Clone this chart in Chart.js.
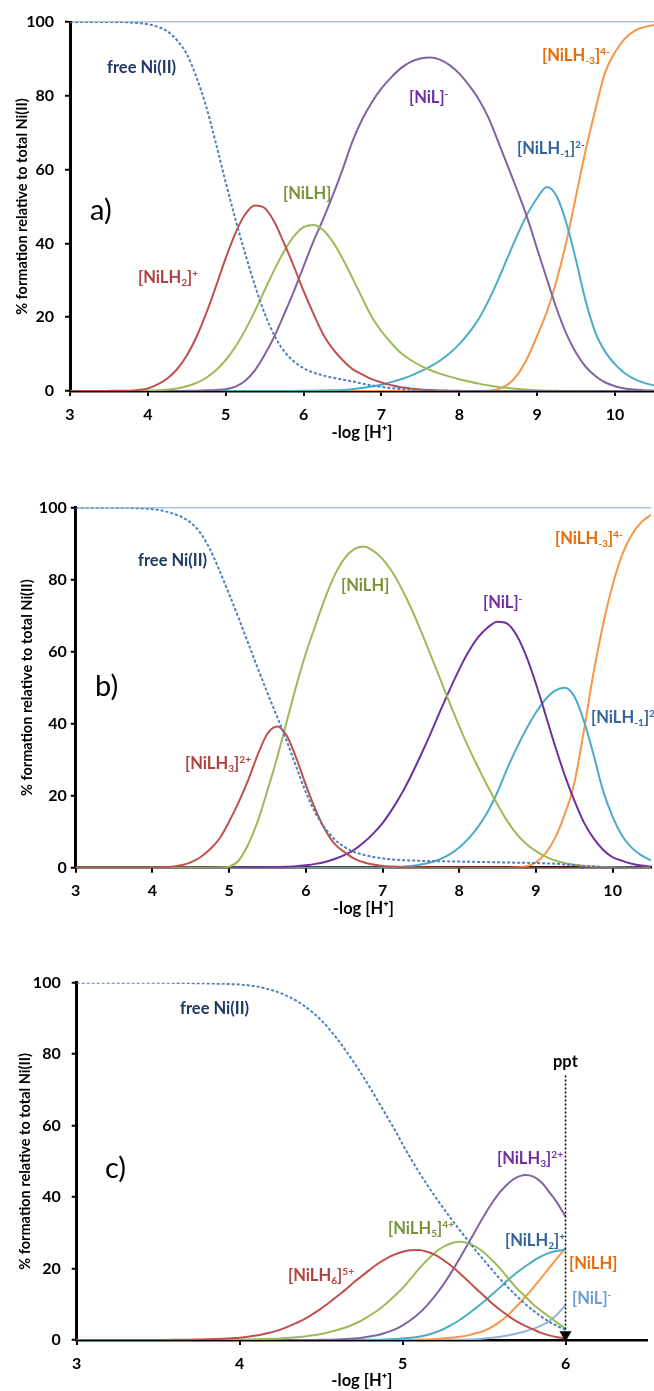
<!DOCTYPE html>
<html>
<head>
<meta charset="utf-8">
<script src="https://cdn.jsdelivr.net/npm/chart.js@4.4.1/dist/chart.umd.min.js"></script>
<style>
  body { margin: 0; background: #fff; width: 654px; height: 1391px; position: relative; overflow: hidden;
         font-family: Lato, "Open Sans", sans-serif; }
  canvas { position: absolute; left: 0; }
  .lbl { position: absolute; font-weight: bold; font-size: 16.5px; line-height: 1; white-space: nowrap; }
  .lbl sup { font-size: 0.62em; position: relative; top: -0.55em; vertical-align: baseline; }
  .lbl sub { font-size: 0.62em; position: relative; top: 0.3em; vertical-align: baseline; }
  .panel { position: absolute; font-size: 29px; line-height: 1; color: #000; }
</style>
</head>
<body>
<canvas id="chartA" width="654" height="445" style="top:0px"></canvas>
<canvas id="chartB" width="654" height="445" style="top:480px"></canvas>
<canvas id="chartC" width="654" height="431" style="top:960px"></canvas>

<script>
// -log[H+] grid for panels a) and b)
const pHAB = [3, 3.125, 3.25, 3.375, 3.5, 3.625, 3.75, 3.875,
              4, 4.125, 4.25, 4.375, 4.5, 4.625, 4.75, 4.875,
              5, 5.125, 5.25, 5.375, 5.5, 5.625, 5.75, 5.875,
              6, 6.125, 6.25, 6.375, 6.5, 6.625, 6.75, 6.875,
              7, 7.125, 7.25, 7.375, 7.5, 7.625, 7.75, 7.875,
              8, 8.125, 8.25, 8.375, 8.5, 8.625, 8.75, 8.875,
              9, 9.125, 9.25, 9.375, 9.5, 9.625, 9.75, 9.875,
              10, 10.125, 10.25, 10.375, 10.5];
// -log[H+] grid for panel c)
const pHC = [3, 3.05, 3.1, 3.15, 3.2, 3.25, 3.3, 3.35, 3.4, 3.45,
             3.5, 3.55, 3.6, 3.65, 3.7, 3.75, 3.8, 3.85, 3.9, 3.95,
             4, 4.05, 4.1, 4.15, 4.2, 4.25, 4.3, 4.35, 4.4, 4.45,
             4.5, 4.55, 4.6, 4.65, 4.7, 4.75, 4.8, 4.85, 4.9, 4.95,
             5, 5.05, 5.1, 5.15, 5.2, 5.25, 5.3, 5.35, 5.4, 5.45,
             5.5, 5.55, 5.6, 5.65, 5.7, 5.75, 5.8, 5.85, 5.9, 5.95,
             6];

// panel a) species, % of total Ni(II)
const freeA = [100,100,100,100,100,100,99.9,99.7,
  99.4,98.7,97.5,95,91.3,85,77,67,
  56.5,46.5,37.2,28.6,21,15,10.8,8,
  6.2,5,4.2,3.6,3.1,2.6,2,1.5,
  1.1,0.8,0.5,0.3,0.2,0.1,0,0,
  0,0,0,0,0,0,0,0,
  0,0,0,0,0,0,0,0,
  0,0,0,0,0];
const nilh2A = [0,0,0,0,0.03,0.06,0.1,0.3,
  0.7,1.8,3.4,5.9,9.6,14.7,21.1,28.4,
  36,42.8,47.9,50.3,49.6,45.8,40,33.8,
  27.1,21,15.4,11.4,8.4,6,4.5,3.2,
  2.3,1.6,1,0.7,0.4,0.25,0.15,0.1,
  0.05,0,0,0,0,0,0,0,
  0,0,0,0,0,0,0,0,
  0,0,0,0,0];
const nilhA = [0,0,0,0,0,0,0,0.05,
  0.1,0.2,0.4,0.7,1.3,2.2,3.6,5.6,
  8.4,12,16.5,21.7,27.3,32.9,37.9,41.9,
  44.4,45,43.6,40.4,35.9,30.7,25.3,20.1,
  16.2,13,10.3,8.4,6.9,5.7,4.7,3.9,
  3.2,2.6,2,1.5,1.1,0.8,0.55,0.35,
  0.2,0.1,0.05,0,0,0,0,0,
  0,0,0,0,0];
const nilA = [0,0,0,0,0,0,0,0,
  0,0,0,0,0.05,0.1,0.2,0.3,
  0.5,1.2,2.8,5.6,9.8,14.8,20.8,27,
  33.8,40.5,46.5,53,60,67.5,73.5,78.2,
  82,85,87.5,89.2,90.1,90.4,89.8,88.3,
  86,82.8,79,74,67.5,60.8,54,46.8,
  38.5,30.3,22.3,15.5,10.3,6.5,4,2.3,
  1.3,0.7,0.4,0.2,0.1];
const nilhm1A = [0,0,0,0,0,0,0,0,
  0,0,0,0,0,0,0,0,
  0,0,0,0,0,0,0,0.02,
  0.05,0.1,0.15,0.2,0.3,0.5,0.8,1.2,
  1.7,2.4,3.2,4.1,5.3,6.6,8.2,10.2,
  12.7,15.8,19.6,24.5,30.2,36.4,42.5,48,
  52.3,55.3,52.8,45.5,35.3,24.2,15.7,10.6,
  7.2,4.8,3.2,2.2,1.5];
const nilhm3A = [0,0,0,0,0,0,0,0,
  0,0,0,0,0,0,0,0,
  0,0,0,0,0,0,0,0,
  0,0,0,0,0,0,0,0,
  0,0,0,0,0,0,0,0,
  0,0,0,0.1,0.5,1.8,4.5,9,
  15,21.5,30,40.5,53,65.5,76.5,86.5,
  91.8,95.5,97.6,98.6,99.2];

// panel b) species
const freeB = [100,100,100,100,100,100,99.9,99.8,
  99.6,99.2,98.5,97.5,95.8,93,88.5,82.5,
  76,69.3,62.3,55.3,48.5,42,35.3,28,
  21,15.2,11,7.9,5.8,4.4,3.6,3,
  2.6,2.3,2.1,2,1.9,1.85,1.8,1.75,
  1.7,1.65,1.6,1.55,1.5,1.45,1.4,1.35,
  1.3,1.2,1.1,0.9,0.7,0.5,0.35,0.2,
  0.15,0.1,0.05,0,0];
const nilh3B = [0,0,0,0,0,0,0,0,
  0,0.1,0.3,0.7,1.5,2.9,5.1,8.1,
  12.8,18.2,24.4,31.5,37.2,39.2,36.7,30.5,
  23,16.2,10.6,6.6,4.4,2.6,1.5,0.9,
  0.5,0.3,0.15,0.08,0.04,0,0,0,
  0,0,0,0,0,0,0,0,
  0,0,0,0,0,0,0,0,
  0,0,0,0,0];
const nilhB = [0,0,0,0,0,0,0,0,
  0,0,0,0,0,0,0,0.05,
  0.3,2,6.5,13,21.5,30.5,40.5,50.5,
  59.5,67.3,74.8,81.2,85.8,88.4,89.2,88.1,
  85.8,82.2,77.5,72,65.8,59.2,52.5,45.8,
  39.3,33.2,27.7,22.4,17.5,13,9.3,6.6,
  4.6,3.1,2,1.3,0.8,0.5,0.3,0.2,
  0.1,0.05,0,0,0];
const nilB = [0,0,0,0,0,0,0,0,
  0,0,0,0,0,0,0,0,
  0,0,0,0.05,0.1,0.17,0.26,0.4,
  0.68,1.06,1.6,2.4,3.5,4.9,6.9,9.4,
  12.4,16.2,20.6,25.7,31.3,37.2,43.4,49.4,
  55.1,60.1,64.1,66.8,68.3,67.8,64.5,58.7,
  51.1,42.5,33.8,25.7,18.7,12.6,8.2,5,
  2.9,1.9,1.1,0.6,0.3];
const nilhm1B = [0,0,0,0,0,0,0,0,
  0,0,0,0,0,0,0,0,
  0,0,0,0,0,0,0,0,
  0,0,0,0,0,0,0,0,
  0.02,0.1,0.27,0.5,0.86,1.45,2.4,3.7,
  5.6,8.2,11.5,15.7,21.1,27.5,33.3,38.5,
  43.1,46.8,49.2,50,47.6,40.8,31.5,21.4,
  14.1,8.8,5.5,3.4,2];
const nilhm3B = [0,0,0,0,0,0,0,0,
  0,0,0,0,0,0,0,0,
  0,0,0,0,0,0,0,0,
  0,0,0,0,0,0,0,0,
  0,0,0,0,0,0,0,0,
  0,0,0,0,0,0,0.1,0.4,
  1.5,4,8.3,14.8,23.5,38,54,67.5,
  78.5,87,92.5,96,98];

// panel c) species
const freeC = [100,100,100,100,100,100,100,100,100,100,
  100,99.98,99.95,99.92,99.9,99.85,99.8,99.75,99.7,99.6,
  99.5,99.3,99,98.5,97.9,97.1,96.1,94.9,93.4,91.6,
  89.5,87,84.2,81.1,77.8,74.3,70.6,66.8,62.9,59,
  54.8,50.8,47,43.5,40.1,36.9,33.8,30.8,27.9,25,
  22.3,19.6,17,14.6,12.3,10.2,8.3,6.6,5.1,3.9,
  2.8];
const nilh6C = [0,0,0,0,0,0,0,0,0.01,0.01,
  0.02,0.03,0.05,0.07,0.1,0.15,0.2,0.28,0.38,0.5,
  0.6,0.9,1.25,1.7,2.2,2.9,3.8,4.8,5.9,7.3,
  8.8,10.5,12.3,14.1,16.1,17.9,19.7,21.4,22.8,23.9,
  24.7,25.1,25.2,24.7,23.8,22.4,20.7,18.7,16.6,14.4,
  12.3,10.2,8.4,6.7,5.2,4,3,2,1.3,0.8,
  0.5];
const nilh5C = [0,0,0,0,0,0,0,0,0,0,
  0,0,0,0,0,0.01,0.02,0.03,0.05,0.07,
  0.1,0.13,0.18,0.25,0.35,0.45,0.6,0.8,1,1.3,
  1.7,2.2,2.8,3.5,4.4,5.5,6.9,8.4,10.2,12.3,
  14.5,17.2,19.9,22.3,24.5,26.1,27.1,27.5,27.1,26.1,
  24.5,22.3,19.9,17.2,14.5,12.3,10,8.2,6.5,4.8,
  3.2];
const nilh3C = [0,0,0,0,0,0,0,0,0,0,
  0,0,0,0,0,0,0,0,0,0,
  0,0,0,0,0,0,0,0,0.02,0.03,
  0.06,0.1,0.17,0.27,0.42,0.65,1,1.4,2.1,2.9,
  4.1,5.6,7.4,9.7,12.4,15.5,19,22.8,26.8,30.8,
  34.8,38.4,41.5,43.9,45.5,46.2,45.8,44.2,41.4,38.3,
  34.5];
const nilh2C = [0,0,0,0,0,0,0,0,0,0,
  0,0,0,0,0,0,0,0,0,0,
  0,0,0,0,0,0,0,0,0,0,
  0,0,0.01,0.02,0.03,0.04,0.05,0.08,0.15,0.25,
  0.4,0.6,0.9,1.4,2.1,3,4.2,5.6,7.2,9,
  10.8,12.8,14.8,16.9,18.8,20.5,22.1,23.4,24.4,25,
  25.3];
const nilhC = [0,0,0,0,0,0,0,0,0,0,
  0,0,0,0,0,0,0,0,0,0,
  0,0,0,0,0,0,0,0,0,0,
  0,0,0,0,0,0,0,0,0,0,
  0.03,0.05,0.1,0.15,0.25,0.4,0.6,0.9,1.3,1.9,
  2.6,3.7,5.2,7.1,9.4,11.9,14.5,17.3,20.2,23,
  25.7];
const nilC = [0,0,0,0,0,0,0,0,0,0,
  0,0,0,0,0,0,0,0,0,0,
  0,0,0,0,0,0,0,0,0,0,
  0,0,0,0,0,0,0,0,0,0,
  0,0,0,0,0,0,0.05,0.08,0.12,0.2,
  0.4,0.6,0.9,1.3,1.8,2.4,3.1,4,5.3,7.2,
  9.8];
// precipitation marker
const pptX = [6, 6];
const pptY = [74, 1.5];

const yTicks = [0, 20, 40, 60, 80, 100];

const RED = "#c0504d", GREEN = "#9bbb59", PURPLE = "#8064a2", CYAN = "#4bacc6",
      ORANGE = "#f79646", DASH = "#4f81bd", LTBLUE = "#95b3d7";

Chart.defaults.font.family = 'Lato, "Open Sans", sans-serif';
Chart.defaults.color = "#000";

function line(xs, ys, color, extra) {
  return Object.assign({
    data: xs.map((x, i) => ({ x, y: ys[i] })),
    borderColor: color,
    borderWidth: 2,
    pointRadius: 0,
    cubicInterpolationMode: "monotone",
    fill: false
  }, extra || {});
}

function makeChart(id, datasets, o) {
  return new Chart(document.getElementById(id), {
    type: "line",
    data: { datasets },
    options: {
      responsive: false,
      animation: false,
      layout: { padding: { top: o.padTop, right: o.padRight, left: 0, bottom: 0 } },
      plugins: { legend: { display: false }, tooltip: { enabled: false } },
      scales: {
        x: {
          type: "linear", min: 3, max: o.xMax,
          ticks: { stepSize: 1, includeBounds: false, maxRotation: 0, padding: 9,
                   font: { size: 16, weight: "bold" } },
          grid: { drawOnChartArea: false, color: "#000", lineWidth: 2, tickLength: 5 },
          border: { color: "#000", width: 2.5 },
          title: { display: true, text: "-log [H\u207A]", font: { size: 16.5, weight: "bold" },
                   padding: { top: 0, bottom: o.titleBottom } },
          afterFit: s => { s.height = o.xHeight; }
        },
        y: {
          min: 0, max: 100,
          afterBuildTicks: s => { s.ticks = yTicks.map(v => ({ value: v })); },
          ticks: { padding: o.yPad, font: { size: 16, weight: "bold" } },
          grid: {
            drawOnChartArea: o.topLine,
            color: c => (c.tick && c.tick.value === 100) ? "#a9c2e4" : "rgba(0,0,0,0)",
            lineWidth: 1.5, tickColor: "#000", tickWidth: 2, tickLength: 5
          },
          border: { color: "#000", width: 3 },
          title: { display: true, text: "% formation relative to total Ni(II)",
                   font: { size: 14.5, weight: "bold" }, padding: { top: o.yTitlePad, bottom: 0 } },
          afterFit: s => { s.width = o.yWidth; }
        }
      }
    }
  });
}

makeChart("chartA", [
  line(pHAB, freeA, DASH, { borderDash: [3, 2] }),
  line(pHAB, nilh2A, RED),
  line(pHAB, nilhA, GREEN),
  line(pHAB, nilA, PURPLE),
  line(pHAB, nilhm1A, CYAN),
  line(pHAB, nilhm3A, ORANGE)
], { padTop: 22, padRight: 0, xMax: 10.5, xHeight: 54, yWidth: 70, yPad: 11,
     yTitlePad: 14, titleBottom: 2, topLine: true });

makeChart("chartB", [
  line(pHAB, freeB, DASH, { borderDash: [3, 2] }),
  line(pHAB, nilh3B, RED),
  line(pHAB, nilhB, GREEN),
  line(pHAB, nilB, "#7030a0"),
  line(pHAB, nilhm1B, CYAN),
  line(pHAB, nilhm3B, ORANGE)
], { padTop: 27.7, padRight: 3, xMax: 10.5, xHeight: 57.3, yWidth: 75.7, yPad: 4,
     yTitlePad: 19, titleBottom: 6, topLine: true });

makeChart("chartC", [
  line(pptX, pptY, "#000", { borderDash: [2, 2], borderWidth: 1.5, cubicInterpolationMode: "default",
        tension: 0, pointRadius: [0, 5.5], pointStyle: "triangle", rotation: 180,
        pointBackgroundColor: "#000", pointBorderColor: "#000" }),
  line(pHC, freeC, DASH, { borderDash: [3, 2] }),
  line(pHC, nilh6C, RED),
  line(pHC, nilh5C, GREEN),
  line(pHC, nilh3C, PURPLE),
  line(pHC, nilh2C, CYAN),
  line(pHC, nilhC, ORANGE),
  line(pHC, nilC, LTBLUE)
], { padTop: 22.7, padRight: 5.6, xMax: 6.5, xHeight: 51, yWidth: 76.7, yPad: 11,
     yTitlePad: 17, titleBottom: 0, topLine: false });

// species labels
const NAVY = "#1f3864", LRED = "#b0413e", LGREEN = "#77933c", LPURPLE = "#7030a0",
      LBLUE = "#35649a", LORANGE = "#e46c0a";
const labels = [
  { t: "free Ni(II)", c: NAVY, x: 107, y: 59 },
  { t: "[NiLH<sub>2</sub>]<sup>+</sup>", c: LRED, x: 138, y: 269 },
  { t: "[NiLH]", c: LGREEN, x: 283, y: 185 },
  { t: "[NiL]<sup>-</sup>", c: LPURPLE, x: 409, y: 89 },
  { t: "[NiLH<sub>-1</sub>]<sup>2-</sup>", c: LBLUE, x: 517, y: 140 },
  { t: "[NiLH<sub>-3</sub>]<sup>4-</sup>", c: LORANGE, x: 542, y: 47 },

  { t: "free Ni(II)", c: NAVY, x: 138, y: 552 },
  { t: "[NiLH<sub>3</sub>]<sup>2+</sup>", c: LRED, x: 185, y: 755 },
  { t: "[NiLH]", c: LGREEN, x: 341, y: 577 },
  { t: "[NiL]<sup>-</sup>", c: LPURPLE, x: 483, y: 594 },
  { t: "[NiLH<sub>-1</sub>]<sup>2-</sup>", c: LBLUE, x: 591, y: 709 },
  { t: "[NiLH<sub>-3</sub>]<sup>4-</sup>", c: LORANGE, x: 555, y: 530 },

  { t: "free Ni(II)", c: NAVY, x: 180, y: 1000 },
  { t: "[NiLH<sub>6</sub>]<sup>5+</sup>", c: LRED, x: 288, y: 1267 },
  { t: "[NiLH<sub>5</sub>]<sup>4+</sup>", c: LGREEN, x: 388, y: 1220 },
  { t: "[NiLH<sub>3</sub>]<sup>2+</sup>", c: LPURPLE, x: 497, y: 1150 },
  { t: "[NiLH<sub>2</sub>]<sup>+</sup>", c: LBLUE, x: 505, y: 1232 },
  { t: "[NiLH]", c: LORANGE, x: 569, y: 1255 },
  { t: "[NiL]<sup>-</sup>", c: "#6f9bd4", x: 572, y: 1290 },
  { t: "ppt", c: "#000", x: 553, y: 1053 }
];
labels.forEach(l => {
  const d = document.createElement("div");
  d.className = "lbl";
  d.style.left = l.x + "px";
  d.style.top = l.y + "px";
  d.style.color = l.c;
  d.innerHTML = l.t;
  document.body.appendChild(d);
});

const panels = [ { t: "a)", x: 90, y: 194 }, { t: "b)", x: 95, y: 670 }, { t: "c)", x: 105, y: 1152 } ];
panels.forEach(p => {
  const d = document.createElement("div");
  d.className = "panel";
  d.style.left = p.x + "px";
  d.style.top = p.y + "px";
  d.textContent = p.t;
  document.body.appendChild(d);
});
</script>
</body>
</html>
